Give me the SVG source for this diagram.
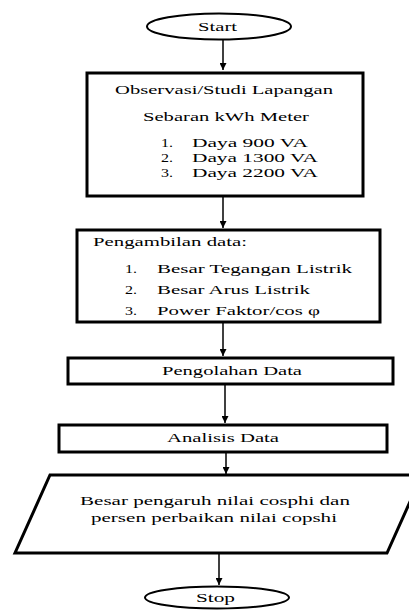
<svg xmlns="http://www.w3.org/2000/svg" width="409" height="610" viewBox="0 0 409 610">
<style>
text{font-family:"Liberation Serif","Times New Roman",serif;font-size:13px;fill:#000}
.box{fill:#fff;stroke:#000;stroke-width:3}
.term{fill:#fff;stroke:#000;stroke-width:2}
.con{stroke:#000;stroke-width:1.5;fill:none;marker-end:url(#ah)}
</style>
<defs>
<marker id="ah" viewBox="0 0 10 10" refX="10" refY="5" markerWidth="7" markerHeight="7" markerUnits="userSpaceOnUse" orient="auto">
<path d="M0,0 L10,5 L0,10 z" fill="#000"/>
</marker>
</defs>
<rect width="409" height="610" fill="#fff"/>
<g id="connectors">
<line class="con" x1="223" y1="40" x2="223" y2="70"/>
<line class="con" x1="223" y1="196" x2="223" y2="228"/>
<line class="con" x1="223" y1="322" x2="223" y2="356"/>
<line class="con" x1="225" y1="385" x2="225" y2="423"/>
<line class="con" x1="226" y1="453" x2="226" y2="474"/>
<line class="con" x1="219" y1="554" x2="219" y2="585"/>
</g>
<g id="start">
<ellipse class="term" cx="219" cy="26.5" rx="72" ry="13"/>
<text x="198" y="30.5" textLength="39" lengthAdjust="spacingAndGlyphs">Start</text>
</g>
<g id="observasi">
<rect class="box" x="87" y="73" width="276" height="123"/>
<text x="115" y="94" textLength="218" lengthAdjust="spacingAndGlyphs">Observasi/Studi Lapangan</text>
<text x="143" y="121" textLength="166" lengthAdjust="spacingAndGlyphs">Sebaran kWh Meter</text>
<text x="161" y="147" textLength="12" lengthAdjust="spacingAndGlyphs">1.</text><text x="192" y="147" textLength="116" lengthAdjust="spacingAndGlyphs">Daya 900 VA</text>
<text x="161" y="162" textLength="12" lengthAdjust="spacingAndGlyphs">2.</text><text x="192" y="162" textLength="126" lengthAdjust="spacingAndGlyphs">Daya 1300 VA</text>
<text x="161" y="177" textLength="12" lengthAdjust="spacingAndGlyphs">3.</text><text x="192" y="177" textLength="126" lengthAdjust="spacingAndGlyphs">Daya 2200 VA</text>
</g>
<g id="pengambilan">
<rect class="box" x="77" y="230" width="303" height="92"/>
<text x="93" y="246" textLength="154" lengthAdjust="spacingAndGlyphs">Pengambilan data:</text>
<text x="125" y="273" textLength="12" lengthAdjust="spacingAndGlyphs">1.</text><text x="157" y="273" textLength="195" lengthAdjust="spacingAndGlyphs">Besar Tegangan Listrik</text>
<text x="125" y="294" textLength="12" lengthAdjust="spacingAndGlyphs">2.</text><text x="157" y="294" textLength="153" lengthAdjust="spacingAndGlyphs">Besar Arus Listrik</text>
<text x="125" y="315" textLength="12" lengthAdjust="spacingAndGlyphs">3.</text><text x="157" y="315" textLength="163" lengthAdjust="spacingAndGlyphs">Power Faktor/cos φ</text>
</g>
<g id="pengolahan">
<rect class="box" x="68" y="358" width="325" height="26"/>
<text x="162" y="375" textLength="140" lengthAdjust="spacingAndGlyphs">Pengolahan Data</text>
</g>
<g id="analisis">
<rect class="box" x="59" y="425" width="328" height="27"/>
<text x="167" y="442" textLength="112" lengthAdjust="spacingAndGlyphs">Analisis Data</text>
</g>
<g id="hasil">
<polygon class="box" points="50,475 422,475 387,553 15,553"/>
<text x="80" y="505" textLength="270" lengthAdjust="spacingAndGlyphs">Besar pengaruh nilai cosphi dan</text>
<text x="91" y="522" textLength="246" lengthAdjust="spacingAndGlyphs">persen perbaikan nilai copshi</text>
</g>
<g id="stop">
<ellipse class="term" cx="217" cy="597.5" rx="72" ry="11"/>
<text x="196" y="601.5" textLength="39" lengthAdjust="spacingAndGlyphs">Stop</text>
</g>
</svg>
